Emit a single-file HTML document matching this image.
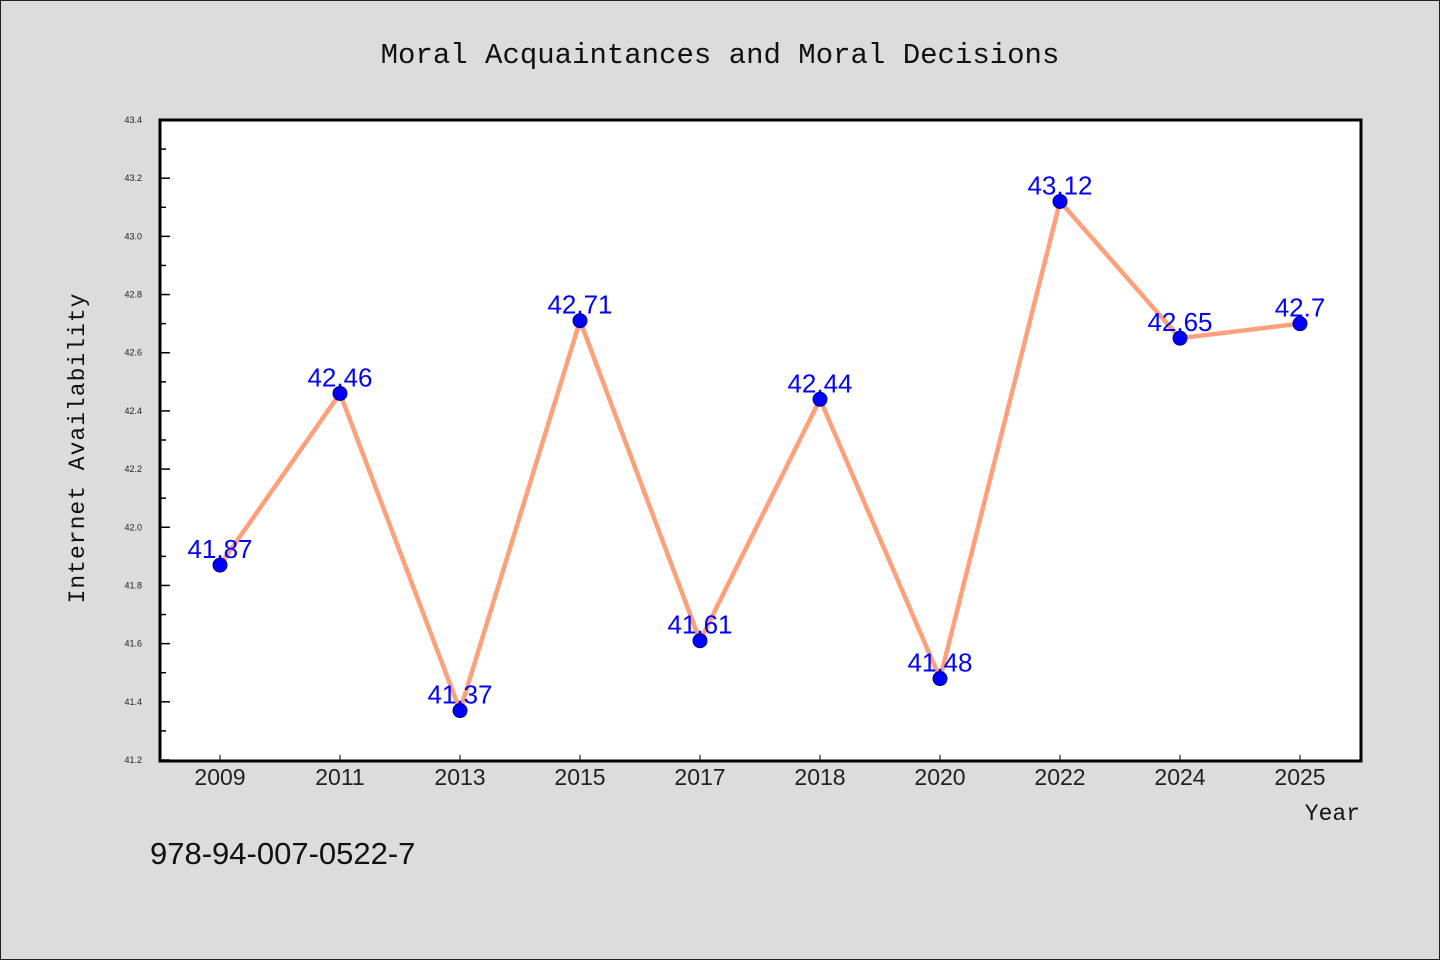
<!DOCTYPE html>
<html><head><meta charset="utf-8"><style>
html,body{margin:0;padding:0;background:#dcdcdc;}
svg{display:block;}
</style></head><body>
<svg width="1440" height="960" xmlns="http://www.w3.org/2000/svg">
<rect x="0.5" y="0.5" width="1439" height="959" fill="#dcdcdc" stroke="#222"/>
<text x="720" y="63" text-anchor="middle" font-family="'Liberation Mono',monospace" font-size="29" fill="#111">Moral Acquaintances and Moral Decisions</text>
<rect x="160" y="120" width="1201" height="641" fill="#fff"/>
<g id="axes"></g>
<g id="series"></g>
<rect x="160" y="120" width="1201" height="641" fill="none" stroke="#000" stroke-width="3"/>
<text transform="translate(84,448) rotate(-90)" text-anchor="middle" font-family="'Liberation Mono',monospace" font-size="23" fill="#111" letter-spacing="1">Internet Availability</text>
<text x="1360" y="820" text-anchor="end" font-family="'Liberation Mono',monospace" font-size="23" fill="#111">Year</text>
<text x="150" y="864" font-family="'Liberation Sans',sans-serif" font-size="31" fill="#111">978-94-007-0522-7</text>
</svg>
<script>
const categories=["2009","2011","2013","2015","2017","2018","2020","2022","2024","2025"];
const values=[41.87,42.46,41.37,42.71,41.61,42.44,41.48,43.12,42.65,42.7];
const yTicks=[41.2,41.4,41.6,41.8,42.0,42.2,42.4,42.6,42.8,43.0,43.2,43.4];
const NS="http://www.w3.org/2000/svg";
const L=160,R=1361,T=120,B=760,yMin=41.2,yMax=43.4;
const y=v=>B-(v-yMin)/(yMax-yMin)*(B-T);
const x=i=>220+i*((1300-220)/(categories.length-1));
function mk(tag,attrs,parent){const e=document.createElementNS(NS,tag);for(const k in attrs)e.setAttribute(k,attrs[k]);parent.appendChild(e);return e;}
const ax=document.getElementById('axes'),se=document.getElementById('series');
yTicks.forEach((t,i)=>{
 const l=mk('line',{x1:L,x2:L+10,y1:y(t),y2:y(t),stroke:'#000','stroke-width':1.5},ax);
 
 
 const tx=mk('text',{x:L-18,y:y(t)+3,'text-anchor':'end','font-family':"'Liberation Sans',sans-serif",'font-size':9,fill:'#222'},ax);
 tx.textContent=t.toFixed(1);
 
 
 if(i<yTicks.length-1){
  const m=(t+yTicks[i+1])/2;
  const ml=mk('line',{x1:L,x2:L+6,y1:y(m),y2:y(m),stroke:'#000','stroke-width':1.5},ax);
  
  
 }
});
categories.forEach((c,i)=>{
 const l=mk('line',{x1:x(i),x2:x(i),y1:B,y2:B-5,stroke:'#000','stroke-width':1},ax);
 
 
 const tx=mk('text',{x:x(i),y:785,'text-anchor':'middle','font-family':"'Liberation Sans',sans-serif",'font-size':23,fill:'#222'},ax);
 tx.textContent=c;
 
 
});
const line=mk('polyline',{points:values.map((v,i)=>x(i)+','+y(v)).join(' '),fill:'none',stroke:'#ffa07a','stroke-width':4.5,'stroke-linejoin':'round'},se);


values.forEach((v,i)=>{
 const c=mk('circle',{cx:x(i),cy:y(v),r:7,fill:'#0000ff',stroke:'#00008b','stroke-width':1},se);
 
 
 const tx=mk('text',{x:x(i),y:y(v)-7,'text-anchor':'middle','font-family':"'Liberation Sans',sans-serif",'font-size':26,fill:'#0000ff'},se);
 tx.textContent=String(v);
 
 
});
</script>
</body></html>
